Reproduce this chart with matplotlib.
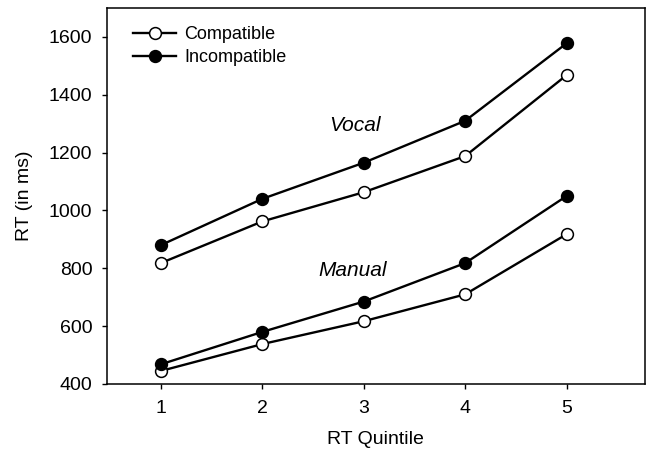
import matplotlib
matplotlib.use("Agg")
import matplotlib.pyplot as plt

quintiles = [1, 2, 3, 4, 5]
vocal_incompatible = [880, 1040, 1165, 1310, 1578]
vocal_compatible = [818, 962, 1063, 1188, 1468]
manual_incompatible = [468, 580, 685, 818, 1050]
manual_compatible = [445, 538, 617, 710, 918]
yticks = [400, 600, 800, 1000, 1200, 1400, 1600]

plt.rcParams['font.family'] = ['Liberation Sans', 'DejaVu Sans']

fig = plt.figure(figsize=(6.5, 4.59), dpi=100)
ax = fig.add_axes([0.1646, 0.1634, 0.992 - 0.1646, 0.9826 - 0.1634])

lw = 1.7
ms = 8.5
kw = dict(color='black', mec='black', lw=lw, ms=ms, mew=1.1)
ax.plot(quintiles, vocal_compatible, '-o', mfc='white', label='Compatible', **kw)
ax.plot(quintiles, vocal_incompatible, '-o', mfc='black', label='Incompatible', **kw)
ax.plot(quintiles, manual_compatible, '-o', mfc='white', **kw)
ax.plot(quintiles, manual_incompatible, '-o', mfc='black', **kw)

ax.text(2.91, 1294, 'Vocal', style='italic', fontsize=15, ha='center', va='center')
ax.text(2.89, 794, 'Manual', style='italic', fontsize=15, ha='center', va='center')

ax.set_xlim(0.47, 5.77)
ax.set_ylim(400, 1700)
ax.set_xticks(quintiles)
ax.set_yticks(yticks)
ax.tick_params(labelsize=14, direction='out', length=3.6, width=1)
ax.tick_params(axis='x', pad=8)
ax.tick_params(axis='y', pad=7)
ax.set_xlabel('RT Quintile', fontsize=14, labelpad=10)
ax.set_ylabel('RT (in ms)', fontsize=14, labelpad=11)
for s in ax.spines.values():
    s.set_linewidth(1.1)

ax.legend(loc='upper left', frameon=False, fontsize=13, handlelength=2.4,
          handletextpad=0.45, borderaxespad=0.0, labelspacing=0.3,
          bbox_to_anchor=(0.035, 0.97))

fig.savefig('out.png', dpi=100)
